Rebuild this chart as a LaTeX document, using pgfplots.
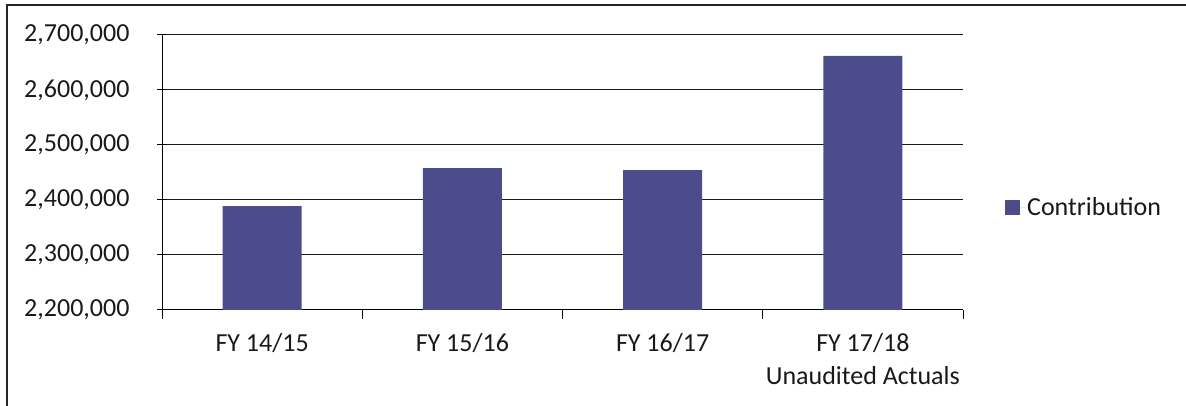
\documentclass[border=0pt]{standalone}
\usepackage{fontspec}
\setmainfont{Carlito}
\usepackage{pgfplots}
\pgfplotsset{compat=1.18}
\definecolor{barblue}{RGB}{76,76,140}
\begin{document}
\begin{tikzpicture}
\useasboundingbox (0,0) rectangle (1186pt,406pt);
\draw[line width=2pt, black!85] (7pt,0) -- (7pt,401pt) -- (1186pt,401pt);
\begin{axis}[
  at={(162pt,96pt)}, anchor=south west,
  scale only axis, width=801pt, height=275pt,
  xmin=-0.5, xmax=3.5,
  ymin=2200000, ymax=2700000,
  ytick={2200000,2300000,2400000,2500000,2600000,2700000},
  scaled y ticks=false,
  yticklabel style={/pgf/number format/.cd, fixed, 1000 sep={,}, assume math mode=true, /tikz/.cd, xshift=-20pt},
  xtick={-0.5,0.5,1.5,2.5,3.5},
  xticklabels={},
  extra x ticks={0,1,2,3},
  extra x tick labels={FY 14/15, FY 15/16, FY 16/17, {FY 17/18\\Unaudited Actuals}},
  extra x tick style={major tick length=0pt, tick style={draw=none},
    xticklabel style={align=center, anchor=north, yshift=-20pt}},
  axis x line=bottom, axis y line=left,
  axis line style={-, line width=1pt, black},
  tick style={line width=1pt, black},
  y tick style={xshift=4pt},
  tick align=outside,
  major tick length=9pt,
  ymajorgrids, grid style={line width=1pt, black!90},
  ticklabel style={font=\fontsize{26}{33}\selectfont, text=black!90},
  legend style={at={(1.0524,0.3745)}, anchor=west, draw=none, fill=none,
    font=\fontsize{26}{33}\selectfont, inner sep=0pt, text=black!90,
    nodes={inner sep=2pt}},
  legend image code/.code={\path (0pt,0pt) -- (20pt,0pt);\fill[#1] (0pt,-7.5pt) rectangle (15pt,7.5pt);},
]
\addplot[ybar, bar width=79pt, fill=barblue, draw=none] coordinates {
  (0,2389000) (1,2458000) (2,2454500) (3,2662000)
};
\addlegendentry{Contribution}
\end{axis}
\end{tikzpicture}
\end{document}
